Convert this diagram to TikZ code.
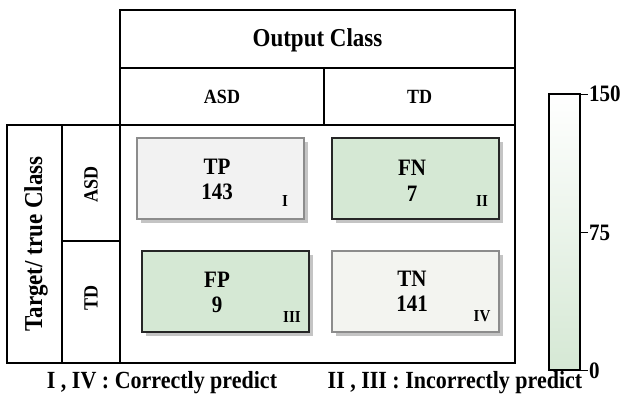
\documentclass[tikz,border=0pt]{standalone}
\usepackage{fontspec}
\setmainfont{Liberation Serif}
\definecolor{cgreen}{HTML}{D5E8D4}
\definecolor{cgray}{HTML}{F2F2F2}
\definecolor{cgray2}{HTML}{F3F4F0}
\definecolor{shd}{HTML}{C4C4C4}
\newcommand\tallt[1]{\scalebox{1}[1.12]{#1}}
\begin{document}
\begin{tikzpicture}[x=1pt,y=-1pt,
  frame/.style={draw=black,line width=1.3pt},
  cell/.style={line width=1.2pt},
  big/.style={font=\fontsize{23}{25}\selectfont\bfseries},
  mid/.style={font=\fontsize{18}{20}\selectfont\bfseries},
  val/.style={font=\fontsize{21}{23}\selectfont\bfseries},
  foot/.style={font=\fontsize{22}{24}\selectfont\bfseries},
  rom/.style={font=\fontsize{15}{17}\selectfont\bfseries},
  tick/.style={line width=1pt}]
\useasboundingbox (0,0) rectangle (624,396);
% frames
\draw[frame] (120,10) rectangle (515,68);
\draw[frame] (120,68) rectangle (324,125);
\draw[frame] (324,68) rectangle (515,125);
\draw[frame] (120,125) rectangle (515,363);
\draw[frame] (7,125) rectangle (62,363);
\draw[frame] (62,125) rectangle (120,241);
\draw[frame] (62,241) rectangle (120,363);
\node[big] (oc) at (317.5,40) {\tallt{Output Class}};
\node[mid] (hasd) at (222,97) {\tallt{ASD}};
\node[mid] (htd) at (419.5,97) {\tallt{TD}};
\node[big,rotate=90] (tc) at (36,244) {\tallt{Target/ true Class}};
\node[mid,rotate=90] (sasd) at (91,184) {\tallt{ASD}};
\node[mid,rotate=90] (std) at (91,298) {\tallt{TD}};
% cells with shadows
\fill[shd] (141,142) rectangle (308,223);
\fill[shd] (336,142) rectangle (503,223);
\fill[shd] (146,255) rectangle (313,336);
\fill[shd] (336,255) rectangle (503,336);
\draw[cell,fill=cgray,draw=black!45] (137,138) rectangle (304,219);
\draw[cell,fill=cgreen,draw=black!85] (332,138) rectangle (499,219);
\draw[cell,fill=cgreen,draw=black!85] (142,251) rectangle (309,332);
\draw[cell,fill=cgray2,draw=black!45] (332,251) rectangle (499,332);
\node[val] (tp) at (217,167) {\tallt{TP}};
\node[val] (tpv) at (217,192) {\tallt{143}};
\node[rom] (r1) at (285,201) {\tallt{I}};
\node[val] (fn) at (412,168) {\tallt{FN}};
\node[val] (fnv) at (412,194) {\tallt{7}};
\node[rom] (r2) at (482,201) {\tallt{II}};
\node[val] (fp) at (217,280) {\tallt{FP}};
\node[val] (fpv) at (217,305) {\tallt{9}};
\node[rom] (r3) at (292,317) {\tallt{III}};
\node[val] (tn) at (412,279) {\tallt{TN}};
\node[val] (tnv) at (412,304) {\tallt{141}};
\node[rom] (r4) at (482,316) {\tallt{IV}};
% colorbar
\shade[top color=white,bottom color=cgreen] (549,94) rectangle (580,370);
\draw[line width=1.2pt] (549,94) rectangle (580,370);
\draw[tick] (580,94) -- (588,94);
\draw[tick] (580,232) -- (588,232);
\draw[tick] (580,370) -- (588,370);
\node[val,anchor=west,inner sep=1pt] (l150) at (588,94) {\tallt{150}};
\node[val,anchor=west,inner sep=1pt] (l75) at (588,233) {\tallt{75}};
\node[val,anchor=west,inner sep=1pt] (l0) at (588,371) {\tallt{0}};
% footer
\node[foot] (f1) at (162,383) {\tallt{I , IV : Correctly predict}};
\node[foot] (f2) at (455,383) {\tallt{II , III : Incorrectly predict}};
\end{tikzpicture}
\end{document}
